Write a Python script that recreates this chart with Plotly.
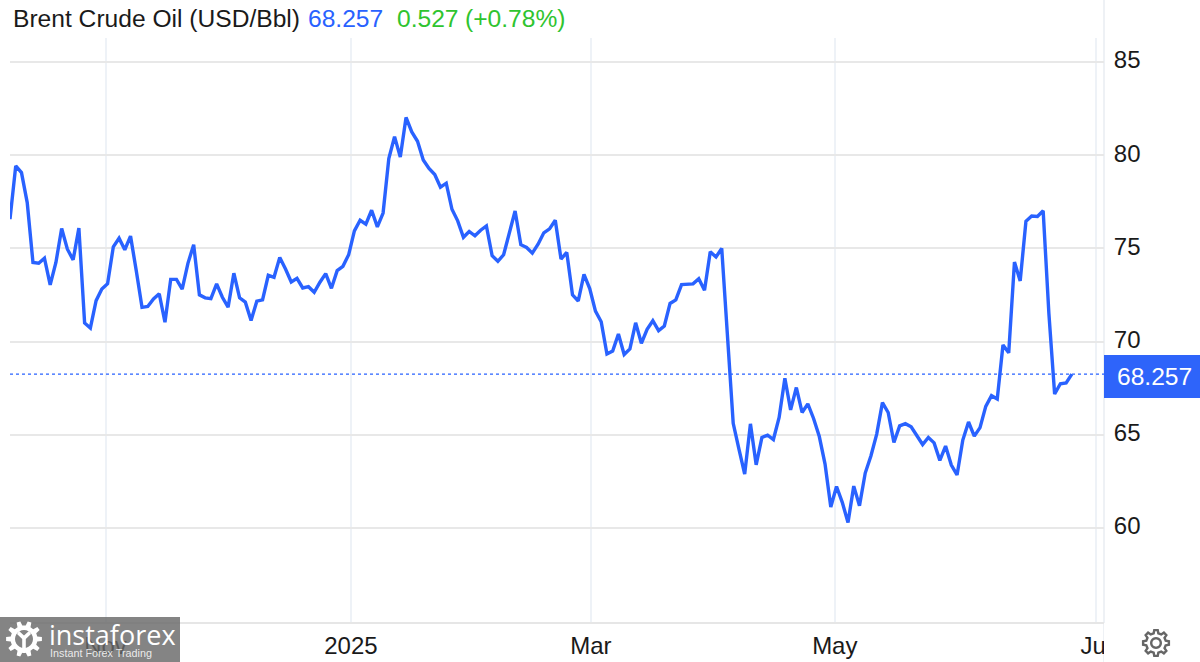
import math
import plotly.graph_objects as go

prices = [
    76.57, 79.43, 79.07, 77.46, 74.25, 74.21, 74.48, 73.05, 74.25, 76.07,
    74.96, 74.39, 76.09, 71.00, 70.73, 72.20, 72.82, 73.11, 75.09, 75.55,
    74.93, 75.66, 73.80, 71.84, 71.89, 72.29, 72.57, 71.04, 73.34, 73.34,
    72.82, 74.20, 75.20, 72.51, 72.35, 72.31, 73.10, 72.38, 71.85, 73.67,
    72.35, 72.12, 71.14, 72.17, 72.24, 73.56, 73.45, 74.52, 73.90, 73.20,
    73.40, 72.88, 72.95, 72.65, 73.19, 73.65, 72.86, 73.81, 74.04, 74.66,
    75.94, 76.51, 76.30, 77.05, 76.16, 76.90, 79.82, 81.00, 79.90, 82.03,
    81.25, 80.75, 79.75, 79.29, 78.97, 78.29, 78.50, 77.10, 76.48, 75.60,
    75.91, 75.68, 75.98, 76.21, 74.61, 74.31, 74.66, 75.85, 77.01, 75.20,
    75.05, 74.75, 75.23, 75.84, 76.05, 76.51, 74.43, 74.79, 72.51, 72.18,
    73.61, 72.85, 71.64, 71.07, 69.34, 69.50, 70.41, 69.31, 69.61, 71.01,
    69.91, 70.66, 71.12, 70.59, 70.84, 72.05, 72.24, 73.06, 73.06, 73.10,
    73.38, 72.76, 74.82, 74.54, 75.00, 70.00, 65.62, 64.23, 62.89, 65.59,
    63.39, 64.86, 64.98, 64.75, 65.93, 68.04, 66.34, 67.54, 66.20, 66.66,
    65.88, 64.91, 63.43, 61.13, 62.23, 61.38, 60.30, 62.25, 61.20, 62.95,
    63.88, 65.04, 66.73, 66.20, 64.59, 65.48, 65.60, 65.43, 64.96, 64.48,
    64.86, 64.57, 63.63, 64.40, 63.38, 62.85, 64.72, 65.69, 64.93, 65.39,
    66.53, 67.10, 66.92, 69.82, 69.40, 74.27, 73.26, 76.46, 76.74, 76.72,
    77.02, 71.50, 67.19, 67.74, 67.79, 68.257,
]
session_index = list(range(len(prices)))

month_positions = [16.64, 59.4, 101.2, 143.7, 189.2]
month_labels = ["Nov", "2025", "Mar", "May", "Jul"]
price_ticks = [60, 65, 70, 75, 80, 85]

title_name = "Brent Crude Oil (USD/Bbl)"
last_text = "68.257"
change_text = "0.527"
change_pct_text = "(+0.78%)"

W, H = 1200, 662
L, R, T, B = 10, 96, 38, 40
PW, PH = W - L - R, H - T - B
BLUE = "#2962ff"
FONT = "Liberation Sans, Arial, sans-serif"


def px(x):
    return (x - L) / PW


def py(y):
    return (H - B - y) / PH


def gear(r_out, r_in, r_hole, teeth=8):
    pts = []
    step = 2 * math.pi / teeth
    for k in range(teeth):
        a = k * step
        for off, r in ((-0.30, r_in), (-0.17, r_out), (0.17, r_out), (0.30, r_in)):
            t = a + off * step * 1.0
            pts.append((r * math.cos(t), r * math.sin(t)))
    d = "M" + " L".join(f"{x:.2f},{y:.2f}" for x, y in pts) + " Z"
    hole = [(r_hole * math.cos(-i * math.pi / 12), r_hole * math.sin(-i * math.pi / 12)) for i in range(24)]
    d += " M" + " L".join(f"{x:.2f},{y:.2f}" for x, y in hole) + " Z"
    return d


fig = go.Figure()
fig.add_trace(go.Scatter(
    x=session_index, y=prices, mode="lines",
    line=dict(color=BLUE, width=3.4, shape="linear"),
    hoverinfo="skip", showlegend=False,
))

shapes = [
    dict(type="line", xref="paper", yref="y", x0=0, x1=1, y0=prices[-1], y1=prices[-1],
         line=dict(color=BLUE, width=1.3, dash="dot"), layer="above"),
    dict(type="line", xref="paper", yref="paper", x0=1, x1=1, y0=py(H), y1=py(0),
         line=dict(color="#eef1f5", width=2), layer="below"),
    dict(type="rect", xref="paper", yref="paper", x0=px(1104), x1=px(W), y0=py(H), y1=py(623),
         fillcolor="white", line_width=0, layer="above"),
    dict(type="rect", xref="paper", yref="paper", x0=px(1104), x1=px(W), y0=py(398), y1=py(355),
         fillcolor="#2e64fa", line_width=0, layer="above"),
    dict(type="rect", xref="paper", yref="paper", x0=px(0), x1=px(180), y0=py(H), y1=py(617),
         fillcolor="rgba(105,105,105,0.82)", line_width=0, layer="above"),
    dict(type="path", xref="paper", yref="paper", xsizemode="pixel", ysizemode="pixel",
         xanchor=px(24), yanchor=py(639), path=gear(18, 13.5, 9, 10),
         fillcolor="white", line_width=0, layer="above"),
    dict(type="path", xref="paper", yref="paper", xsizemode="pixel", ysizemode="pixel",
         xanchor=px(24), yanchor=py(639),
         path="M-1.8,-14 L1.8,-14 L1.8,0 L7,5 L5,8 L0,3.5 L-5,8 L-7,5 L-1.8,0 Z",
         fillcolor="white", line_width=0, layer="above"),
    dict(type="path", xref="paper", yref="paper", xsizemode="pixel", ysizemode="pixel",
         xanchor=px(1156), yanchor=py(643), path=gear(13, 10, 4.8, 8),
         fillcolor="rgba(0,0,0,0)", line=dict(color="#666666", width=2.4), layer="above"),
]


def note(text, x, y, size, color, anchor="left", **kw):
    return dict(text=text, xref="paper", yref="paper", x=px(x), y=py(y), xanchor=anchor,
                yanchor="middle", showarrow=False, font=dict(family=kw.get("family", FONT), size=size, color=color))


annotations = [
    note(title_name, 11, 18, 24.6, "#1a1a1a"),
    note(last_text, 306, 18, 24.6, BLUE),
    note(change_text, 395, 18, 24.6, "#2fc42f"),
    note(change_pct_text, 463, 18, 24.6, "#2fc42f"),
    note(last_text, 1154, 376, 24.6, "white", "center"),
    note("instaforex", 47, 634, 27, "white", family="Open Sans, sans-serif"),
    note("Instant Forex Trading", 48, 653, 10.8, "rgba(255,255,255,0.85)"),
]

fig.update_layout(
    width=W, height=H, margin=dict(l=L, r=R, t=T, b=B, autoexpand=False),
    paper_bgcolor="white", plot_bgcolor="white",
    font=dict(family=FONT, size=24, color="#1a1a1a"),
    showlegend=False, shapes=shapes, annotations=annotations,
    xaxis=dict(
        automargin=False,
        range=[0, 190.6], tickmode="array", tickvals=month_positions, ticktext=month_labels,
        showgrid=True, gridcolor="#eef2f7", gridwidth=1.5, zeroline=False,
        showline=True, linecolor="#e6e6e6", linewidth=2,
        ticks="outside", ticklen=1, tickcolor="rgba(0,0,0,0)", tickfont=dict(size=24),
    ),
    yaxis=dict(
        automargin=False, ticklabelshift=-2,
        side="right", range=[54.96, 86.29], tickmode="array", tickvals=price_ticks,
        showgrid=True, gridcolor="#e8e8e8", gridwidth=2, zeroline=False, showline=False,
        ticks="outside", ticklen=4, tickcolor="rgba(0,0,0,0)", tickfont=dict(size=24),
    ),
)

fig.write_html("out.html", config=dict(displayModeBar=False),
               post_script="document.body.style.margin='0';document.documentElement.style.overflow='hidden';")
